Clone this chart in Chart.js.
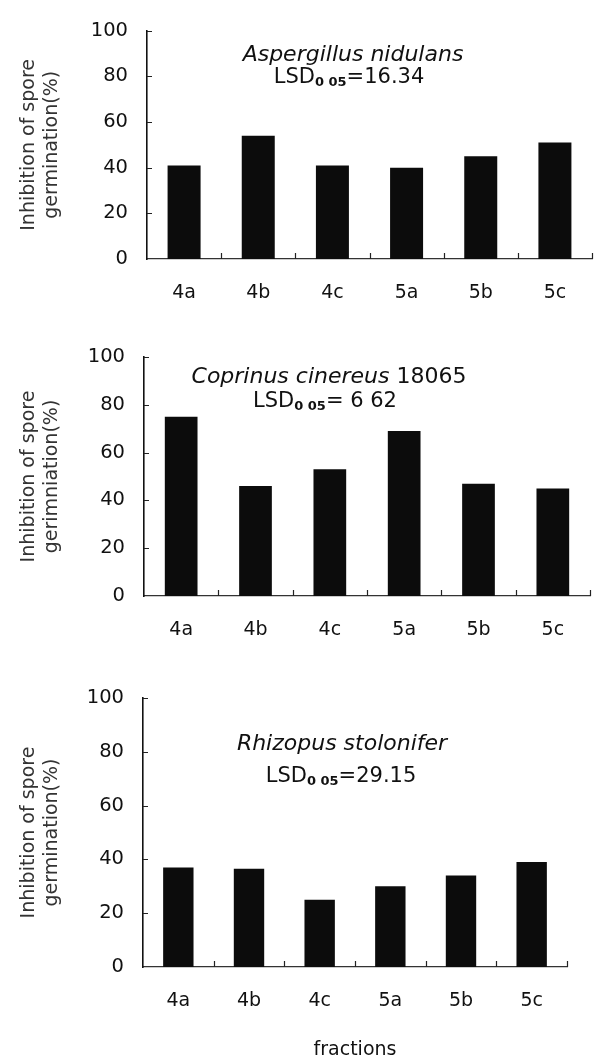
<!DOCTYPE html>
<html>
<head>
<meta charset="utf-8">
<script src="https://cdn.jsdelivr.net/npm/chart.js@4.4.0/dist/chart.umd.min.js"></script>
<style>
  html, body { margin: 0; padding: 0; background: #fff; overflow: hidden; }
  body { width: 596px; height: 1057px; position: relative; }
  canvas { position: absolute; left: 0; }
</style>
</head>
<body>
<canvas id="chartA" width="596" height="320" style="top:0"></canvas>
<canvas id="chartB" width="596" height="340" style="top:320px"></canvas>
<canvas id="chartC" width="596" height="430" style="top:640px"></canvas>
<script>
// fractions on the x axis
const fractions = ["4a", "4b", "4c", "5a", "5b", "5c"];
const yTicks = [0, 20, 40, 60, 80, 100];

// inhibition of spore germination (%)
const aspergillus = [41, 54, 41, 40, 45, 51];
const coprinus = [75, 46, 53, 69, 47, 45];
const rhizopus = [37, 36.5, 25, 30, 34, 39];

const yTitle = ["Inhibition of spore", "germination(%)"];
const yTitleB = ["Inhibition of spore", "gerimniation(%)"];

Chart.defaults.font.family = '"DejaVu Sans", sans-serif';
Chart.defaults.color = "#111";

// inward tick marks + species / LSD text
const marks = {
  id: "marks",
  afterDraw(chart, args, opts) {
    const { ctx, chartArea, scales: { x, y } } = chart;
    ctx.save();
    ctx.strokeStyle = "#222";
    ctx.lineWidth = 1.2;
    ctx.beginPath();
    y.ticks.forEach(t => {
      if (t.value === 0) return;
      const py = Math.round(y.getPixelForValue(t.value)) + 0.5;
      ctx.moveTo(chartArea.left, py);
      ctx.lineTo(chartArea.left + 5, py);
    });
    for (let i = 0; i < fractions.length; i++) {
      const px = Math.round(x.getPixelForValue(i + 0.5)) + 0.5;
      ctx.moveTo(px, chartArea.bottom);
      ctx.lineTo(px, chartArea.bottom - 6);
    }
    ctx.stroke();

    ctx.fillStyle = "#111";
    ctx.textBaseline = "alphabetic";
    ctx.textAlign = "left";
    // line 1: species name
    const fItal = 'italic 22px "DejaVu Sans"';
    const fReg = '22px "DejaVu Sans"';
    ctx.font = fItal;
    const w1 = ctx.measureText(opts.name).width;
    ctx.font = fReg;
    const w2 = opts.extra ? ctx.measureText(opts.extra).width : 0;
    let sx = opts.x1 - (w1 + w2) / 2;
    ctx.font = fItal;
    ctx.fillText(opts.name, sx, opts.b1);
    if (opts.extra) {
      ctx.font = fReg;
      ctx.fillText(opts.extra, sx + w1, opts.b1);
    }
    // line 2: LSD with subscript
    const fL = '21px "DejaVu Sans"';
    const fS = 'bold 13px "DejaVu Sans"';
    ctx.font = fL;
    const a = ctx.measureText("LSD").width;
    const c = ctx.measureText(opts.lsd).width;
    ctx.font = fS;
    const b = ctx.measureText("0 05").width;
    sx = opts.x2 - (a + b + c) / 2;
    ctx.font = fL;
    ctx.fillText("LSD", sx, opts.b2);
    ctx.font = fS;
    ctx.fillText("0 05", sx + a, opts.b2 + 3);
    ctx.font = fL;
    ctx.fillText(opts.lsd, sx + a + b, opts.b2);
    ctx.restore();
  }
};

function makeChart(id, values, o) {
  return new Chart(document.getElementById(id), {
    type: "bar",
    data: {
      labels: fractions,
      datasets: [{
        data: values,
        backgroundColor: "#0c0c0c",
        borderWidth: 0,
        categoryPercentage: 1,
        barPercentage: o.barPct
      }]
    },
    options: {
      responsive: false,
      animation: false,
      layout: { padding: { top: o.top, right: o.right, left: 0, bottom: 0 } },
      plugins: {
        legend: { display: false },
        tooltip: { enabled: false },
        marks: o.text
      },
      scales: {
        x: {
          offset: true,
          grid: { display: false, drawTicks: false },
          border: { display: true, color: "#333", width: 1.3 },
          ticks: { padding: 22.6, font: { size: 19 }, color: "#111" },
          title: o.xTitle ? {
            display: true, text: o.xTitle, font: { size: 19 }, color: "#111",
            padding: { top: 0, bottom: 8.6 }
          } : { display: false },
          afterFit(s) { s.height = o.xHeight; }
        },
        y: {
          min: 0, max: 100,
          afterBuildTicks(s) { s.ticks = yTicks.map(v => ({ value: v })); },
          grid: { display: false, drawTicks: false },
          border: { display: true, color: "#111", width: 1.6 },
          ticks: { padding: 19, font: { size: 19.5 }, color: "#111" },
          title: {
            display: true, text: o.yTitle, font: { size: 19 }, color: "#333",
            padding: { top: 17.6, bottom: 0 }
          },
          afterFit(s) { s.width = o.left; }
        }
      }
    },
    plugins: [marks]
  });
}

makeChart("chartA", aspergillus, {
  top: 19, right: 4, left: 147, xHeight: 61, barPct: 0.445, yTitle: yTitle,
  text: { name: "Aspergillus nidulans", extra: "", lsd: "=16.34", x1: 353, b1: 61, x2: 349, b2: 83 }
});
makeChart("chartB", coprinus, {
  top: 37, right: 6, left: 144, xHeight: 64, barPct: 0.44, yTitle: yTitleB,
  text: { name: "Coprinus cinereus", extra: " 18065", lsd: "= 6 62", x1: 329, b1: 63, x2: 325, b2: 87 }
});
makeChart("chartC", rhizopus, {
  top: 58, right: 29, left: 143, xHeight: 103, barPct: 0.43, yTitle: yTitle, xTitle: "fractions",
  text: { name: "Rhizopus stolonifer", extra: "", lsd: "=29.15", x1: 342, b1: 110, x2: 341, b2: 142 }
});
</script>
</body>
</html>
